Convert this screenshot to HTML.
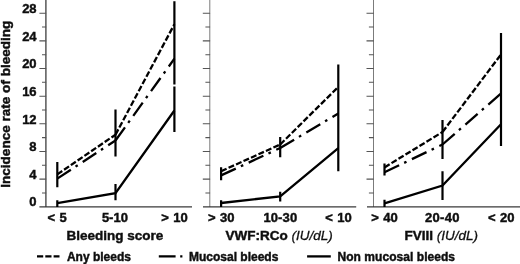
<!DOCTYPE html>
<html><head><meta charset="utf-8">
<style>
html,body{margin:0;padding:0;background:#fff;}
body{width:520px;height:264px;overflow:hidden;}
svg{display:block;}
text{font-family:"Liberation Sans",sans-serif;font-weight:bold;fill:#111;stroke:#111;stroke-width:0.45;}
.t{font-size:13px;}
.xl{font-size:13.5px;}
.yl{font-size:13.56px;}
.lg{font-size:12px;}
.it{font-style:italic;font-weight:normal;stroke-width:0.3;}
.ax{stroke:#3c3c3c;stroke-width:1.3;fill:none;}
.ax2{stroke:#6c6c6c;stroke-width:0.9;fill:none;}
.tk{stroke:#555;stroke-width:1.05;fill:none;}
.xa{stroke:#383838;stroke-width:1.3;fill:none;}
.d{stroke:#000;stroke-width:2.3;fill:none;}
.e{stroke:#000;stroke-width:2.2;fill:none;}
</style></head><body>
<svg width="520" height="264" viewBox="0 0 520 264">
<defs><filter id="b" x="-2%" y="-2%" width="104%" height="104%"><feGaussianBlur stdDeviation="0.45"/></filter><filter id="b2" x="-2%" y="-2%" width="104%" height="104%"><feGaussianBlur stdDeviation="0.25"/></filter></defs>
<rect width="520" height="264" fill="#fff"/>
<g filter="url(#b2)">
<path class="ax" d="M45.9 0V207"/><path class="tk" d="M39.4 179.10H46.2 M39.4 151.45H46.2 M39.4 123.80H46.2 M39.4 96.15H46.2 M39.4 68.50H46.2 M39.4 40.85H46.2 M39.4 13.20H46.2 M42 192.93H46.2 M42 165.28H46.2 M42 137.62H46.2 M42 109.98H46.2 M42 82.33H46.2 M42 54.68H46.2 M42 27.03H46.2"/><path class="xa" d="M39.4 206.9H192.0"/>
<path class="ax2" d="M209.8 0V207"/><path class="tk" d="M202.8 179.10H210.1 M202.8 151.45H210.1 M202.8 123.80H210.1 M202.8 96.15H210.1 M202.8 68.50H210.1 M202.8 40.85H210.1 M202.8 13.20H210.1 M205.4 192.93H210.1 M205.4 165.28H210.1 M205.4 137.62H210.1 M205.4 109.98H210.1 M205.4 82.33H210.1 M205.4 54.68H210.1 M205.4 27.03H210.1"/><path class="xa" d="M203 206.9H356.2"/>
<path class="ax2" d="M373.5 0V207"/><path class="tk" d="M366.5 179.10H373.8 M366.5 151.45H373.8 M366.5 123.80H373.8 M366.5 96.15H373.8 M366.5 68.50H373.8 M366.5 40.85H373.8 M366.5 13.20H373.8 M368.9 192.93H373.8 M368.9 165.28H373.8 M368.9 137.62H373.8 M368.9 109.98H373.8 M368.9 82.33H373.8 M368.9 54.68H373.8 M368.9 27.03H373.8"/><path class="xa" d="M367 206.9H520"/>
</g>
<g filter="url(#b)">
<text class="yl" transform="translate(10.4,187.75) rotate(-90)" x="0" y="0">Incidence rate of bleeding</text>
<g class="t" text-anchor="end">
<text x="36.6" y="13.1">28</text>
<text x="36.6" y="40.7">24</text>
<text x="36.6" y="68.3">20</text>
<text x="36.6" y="96.0">16</text>
<text x="36.6" y="123.7">12</text>
<text x="36.6" y="151.3">8</text>
<text x="36.6" y="178.9">4</text>
<text x="36.6" y="206.3">0</text>
</g>
<path class="e" d="M57.3 162V187.3 M57.3 200.3V207 M115.5 109.5V156.5 M115.5 184V200.3 M174.4 1.2V84.5 M174.4 86.5V132"/>
<path class="d" stroke-linejoin="miter" d="M57.3 203.1L115.5 193.2L174.4 110.5"/>
<path class="d" stroke-dasharray="6 2.2" d="M57.3 174.4L115.5 134.7"/>
<path class="d" stroke-dasharray="6 2.2" d="M115.5 134.7L174.4 24.2"/>
<path class="d" stroke-dasharray="16.2 5.6 2.6 6" d="M57.3 178.6L115.5 140.5"/>
<path class="d" stroke-dasharray="16.2 5.6 2.6 6" d="M115.5 140.5L174.4 58.7"/>
<path class="e" d="M221.1 167.2V180.3 M221.1 200.2V207 M280.2 137V157.3 M280.2 191.8V201.5 M338.3 64.5V171.3"/>
<path class="d" stroke-linejoin="miter" d="M221.1 203.0L280.2 196.3L338.3 148.2"/>
<path class="d" stroke-dasharray="6 2.2" d="M221.1 171.2L280.2 144.5"/>
<path class="d" stroke-dasharray="6 2.2" d="M280.2 144.5L338.3 86.9"/>
<path class="d" stroke-dasharray="16.2 5.6 2.6 6" d="M221.1 175.4L280.2 148.0"/>
<path class="d" stroke-dasharray="16.2 5.6 2.6 6" d="M280.2 148.0L338.3 113.5"/>
<path class="e" d="M384.5 163.5V175.6 M384.5 199.8V207 M442.5 120V159.0 M442.5 171.3V200 M501.0 33V146"/>
<path class="d" stroke-linejoin="miter" d="M384.5 203.4L442.5 185.5L501.0 124.3"/>
<path class="d" stroke-dasharray="6 2.2" d="M384.5 167.4L442.5 132.0"/>
<path class="d" stroke-dasharray="6 2.2" d="M442.5 132.0L501.0 54.5"/>
<path class="d" stroke-dasharray="16.2 5.6 2.6 6" d="M384.5 172.3L442.5 144.5"/>
<path class="d" stroke-dasharray="16.2 5.6 2.6 6" d="M442.5 144.5L501.0 93.5"/>
<g class="t" style="word-spacing:0.8px">
<text x="47.5" y="221.5">&lt; 5</text>
<text x="101.9" y="221.5">5-10</text>
<text x="161.2" y="221.5">&gt; 10</text>
<text x="208" y="221.5">&gt; 30</text>
<text x="263.4" y="221.5" style="letter-spacing:0.12px">10-30</text>
<text x="325.3" y="221.5">&lt; 10</text>
<text x="371.2" y="221.5">&gt; 40</text>
<text x="425" y="221.5" style="letter-spacing:0.3px">20-40</text>
<text x="488" y="221.5">&lt; 20</text>
</g>
<g class="xl">
<text x="66.5" y="239.7">Bleeding score</text>
<text x="225.5" y="239.7">VWF:RCo <tspan class="it">(IU/dL)</tspan></text>
<text x="404.5" y="239.7">FVIII <tspan class="it">(IU/dL)</tspan></text>
</g>
<path class="d" stroke-width="2.2" stroke-dasharray="6.2 2.1" d="M37 256.4H59.5"/>
<path class="d" stroke-width="2.2" d="M158.8 256.4H175.6 M180.2 256.4H182.4"/>
<path class="d" stroke-width="2.2" d="M307.1 256.4H330.8"/>
<g class="lg">
<text x="66.9" y="260.5">Any bleeds</text>
<text x="189" y="260.5">Mucosal bleeds</text>
<text x="337.5" y="260.5" style="letter-spacing:0.05px">Non mucosal bleeds</text>
</g>
</g>
</svg>
</body></html>
